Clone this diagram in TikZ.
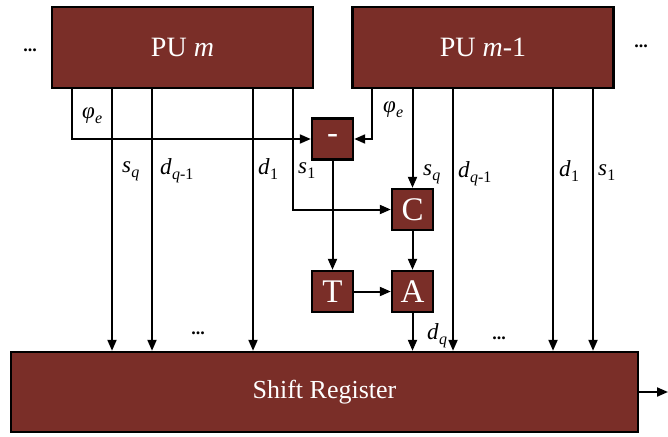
\documentclass[tikz,border=0pt]{standalone}
\usepackage{fontspec}
\setmainfont{Liberation Serif}
\usetikzlibrary{arrows.meta}
\definecolor{boxred}{RGB}{122,46,40}
\newcommand{\lab}[2]{\textit{#1}\kern0.3pt\raisebox{-5pt}{\fontsize{16}{16}\selectfont #2}}
\begin{document}
\begin{tikzpicture}[x=1pt,y=-1pt,
  blk/.style={draw=black,line width=2.4pt,fill=boxred,text=white,inner sep=0pt},
  pubox/.style={blk,minimum width=261pt,minimum height=81pt,font=\fontsize{28}{28}\selectfont},
  small/.style={blk,minimum width=41pt,minimum height=41pt,font=\fontsize{33}{33}\selectfont},
  wire/.style={line width=2pt},
  arr/.style={wire,-{Triangle[length=11pt,width=9pt]}},
  lbl/.style={anchor=base west,inner sep=0pt,font=\fontsize{23}{23}\selectfont},
  dots/.style={inner sep=0pt,font=\fontsize{18}{18}\selectfont\bfseries}]
\useasboundingbox (0,0) rectangle (668,436);
% blocks
\node[pubox] (pum) at (182.5,47.5) {PU \textit{m}};
\node[pubox] (pum1) at (483,47.5) {PU \textit{m}-1};
\node[small] (minus) at (332.5,139) {-};
\node[small] (C) at (412.5,209.5) {C};
\node[small] (T) at (332.5,291.5) {T};
\node[small] (A) at (412.5,291.5) {A};
\node[blk,minimum width=627pt,minimum height=80pt,font=\fontsize{26}{26}\selectfont] (sr) at (324.5,392) {Shift Register};
% x positions
\coordinate (xa) at (72,0);
\coordinate (xb) at (112,0);
\coordinate (xc) at (152,0);
\coordinate (xd) at (253,0);
\coordinate (xe) at (293,0);
\coordinate (xf) at (372,0);
\coordinate (xg) at (453,0);
\coordinate (xh) at (553,0);
\coordinate (xi) at (593,0);
\coordinate (out) at (668,392);
% connectors PU m
\draw[arr] (pum.south -| xa) |- (minus.west);
\draw[arr] (pum.south -| xb) -- (sr.north -| xb);
\draw[arr] (pum.south -| xc) -- (sr.north -| xc);
\draw[arr] (pum.south -| xd) -- (sr.north -| xd);
\draw[arr] (pum.south -| xe) |- (C.west);
% connectors PU m-1
\draw[arr] (pum1.south -| xf) |- (minus.east);
\draw[arr] (pum1.south -| C) -- (C.north);
\draw[arr] (pum1.south -| xg) -- (sr.north -| xg);
\draw[arr] (pum1.south -| xh) -- (sr.north -| xh);
\draw[arr] (pum1.south -| xi) -- (sr.north -| xi);
% inner
\draw[arr] (minus.south) -- (T.north);
\draw[arr] (C.south) -- (A.north);
\draw[arr] (T.east) -- (A.west);
\draw[arr] (A.south) -- (sr.north -| A);
\draw[arr] (sr.east) -- (out);
% labels
\node[lbl] (l1) at (82,118) {\lab{φ}{\textit{e}}};
\node[lbl] (l2) at (122,172) {\lab{s}{\textit{q}}};
\node[lbl] (l3) at (160,174) {\lab{d}{\textit{q}-1}};
\node[lbl] (l4) at (258,174) {\lab{d}{1}};
\node[lbl] (l5) at (298,173) {\lab{s}{1}};
\node[lbl] (l6) at (383,112) {\lab{φ}{\textit{e}}};
\node[lbl] (l7) at (423,175) {\lab{s}{\textit{q}}};
\node[lbl] (l8) at (458,177) {\lab{d}{\textit{q}-1}};
\node[lbl] (l9) at (559,176) {\lab{d}{1}};
\node[lbl] (l10) at (598,175) {\lab{s}{1}};
\node[lbl] (l11) at (427,339) {\lab{d}{\textit{q}}};
% dots
\node[dots] (d1) at (30,50) {...};
\node[dots] (d2) at (641,46) {...};
\node[dots] (d3) at (198,333) {...};
\node[dots] (d4) at (499,338) {...};
\end{tikzpicture}
\end{document}
